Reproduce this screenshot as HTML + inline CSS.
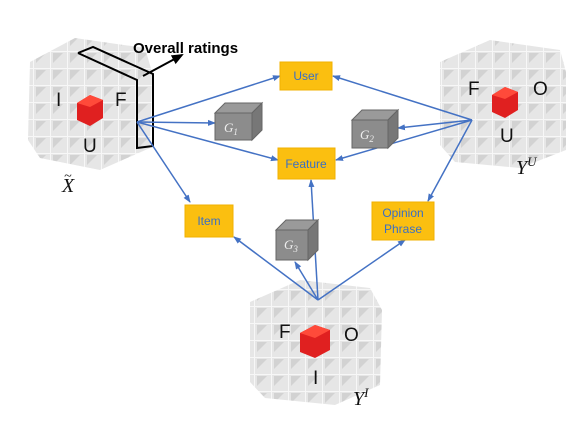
<!DOCTYPE html>
<html><head><style>body{margin:0;background:#fff}svg{display:block}</style></head><body>
<svg width="580" height="423" viewBox="0 0 580 423" xmlns="http://www.w3.org/2000/svg" font-family="Liberation Sans, sans-serif">
<defs>
<marker id="a" markerWidth="8" markerHeight="8" refX="7" refY="4" orient="auto" markerUnits="userSpaceOnUse"><path d="M0,1 L8,4 L0,7 z" fill="#4472c4"/></marker>
<marker id="b" markerWidth="12" markerHeight="12" refX="10" refY="6" orient="auto" markerUnits="userSpaceOnUse"><path d="M0,1 L12,6 L0,11 z" fill="#000"/></marker>
<pattern id="g" width="17" height="17" patternUnits="userSpaceOnUse"><rect width="17" height="17" fill="#e6e6e6"/><path d="M0,0 L17,0 L17,17" fill="none" stroke="#f7f7f7" stroke-width="2"/><path d="M2,2 L12,2 L2,12 z" fill="#d2d2d2"/></pattern>
</defs>
<g>
<polygon points="30,62 75,38 145,48 152,72 150,148 100,170 40,158 28,140" fill="url(#g)"/>
<polygon points="440,62 490,40 560,50 566,72 566,150 520,168 455,162 440,145" fill="url(#g)"/>
<polygon points="250,302 300,280 370,288 382,310 380,385 335,405 265,398 250,382" fill="url(#g)"/>
</g>
<g><polygon points="77,103 90,95 103,100 103,118 90,126 77,120" fill="#e02020"/><polygon points="77,103 90,95 103,100 90,107" fill="#ff4a3a"/></g>
<g><polygon points="492,95 505,87 518,92 518,110 505,118 492,112" fill="#e02020"/><polygon points="492,95 505,87 518,92 505,99" fill="#ff4a3a"/></g>
<g><polygon points="300,333 315,325 330,330 330,350 315,358 300,352" fill="#e02020"/><polygon points="300,333 315,325 330,330 315,338" fill="#ff4a3a"/></g>
<g fill="none" stroke="#000" stroke-width="2">
<path d="M78,53 L93,47 L153,74 L153,146 L137,148 L137,80 L78,53"/>
<line x1="143" y1="76" x2="182" y2="55" marker-end="url(#b)"/>
</g>
<text x="133" y="53" font-size="15" font-weight="bold">Overall ratings</text>
<g font-size="19" fill="#111">
<text x="56" y="106">I</text><text x="115" y="106">F</text><text x="83" y="152">U</text>
<text x="468" y="95">F</text><text x="533" y="95">O</text><text x="500" y="142">U</text>
<text x="279" y="338">F</text><text x="344" y="341">O</text><text x="313" y="384">I</text>
</g>
<g font-family="Liberation Serif, serif" font-style="italic" font-size="20" fill="#111">
<text x="62" y="192">X</text><text x="64" y="180" font-size="14">~</text>
<text x="516" y="174">Y<tspan font-size="13" dy="-8">U</tspan></text>
<text x="353" y="405">Y<tspan font-size="13" dy="-8">I</tspan></text>
</g>
<g stroke="#4472c4" stroke-width="1.5" fill="none" marker-end="url(#a)">
<line x1="137" y1="122" x2="280" y2="76"/>
<line x1="137" y1="122" x2="215" y2="123"/>
<line x1="137" y1="122" x2="278" y2="160"/>
<line x1="137" y1="122" x2="190" y2="202"/>
<line x1="472" y1="120" x2="333" y2="76"/>
<line x1="472" y1="120" x2="398" y2="128"/>
<line x1="472" y1="120" x2="336" y2="160"/>
<line x1="472" y1="120" x2="428" y2="201"/>
<line x1="318" y1="300" x2="234" y2="237"/>
<line x1="318" y1="300" x2="295" y2="262"/>
<line x1="318" y1="300" x2="311" y2="180"/>
<line x1="318" y1="300" x2="405" y2="240"/>
</g>
<g fill="#fbbf10" stroke="#f0b000">
<rect x="280" y="62" width="52" height="28"/>
<rect x="278" y="148" width="57" height="31"/>
<rect x="185" y="205" width="48" height="32"/>
<rect x="372" y="202" width="62" height="38"/>
</g>
<g fill="#3a6fc4" font-size="12" text-anchor="middle">
<text x="306" y="80">User</text>
<text x="306" y="168">Feature</text>
<text x="209" y="225">Item</text>
<text x="403" y="217">Opinion</text><text x="403" y="233">Phrase</text>
</g>
<g stroke="#666" stroke-width="1">
<polygon points="215,113 225,103 262,103 252,113" fill="#9a9a9a"/><polygon points="252,113 262,103 262,130 252,140" fill="#777"/><rect x="215" y="113" width="37" height="27" fill="#8c8c8c"/>
<polygon points="352,120 362,110 398,110 388,120" fill="#9a9a9a"/><polygon points="388,120 398,110 398,138 388,148" fill="#777"/><rect x="352" y="120" width="36" height="28" fill="#8c8c8c"/>
<polygon points="276,230 286,220 318,220 308,230" fill="#9a9a9a"/><polygon points="308,230 318,220 318,250 308,260" fill="#777"/><rect x="276" y="230" width="32" height="30" fill="#8c8c8c"/>
</g>
<g fill="#eee" font-family="Liberation Serif, serif" font-style="italic" font-size="13">
<text x="224" y="132">G<tspan font-size="9" dy="3">1</tspan></text>
<text x="360" y="139">G<tspan font-size="9" dy="3">2</tspan></text>
<text x="284" y="249">G<tspan font-size="9" dy="3">3</tspan></text>
</g>
</svg>
</body></html>
